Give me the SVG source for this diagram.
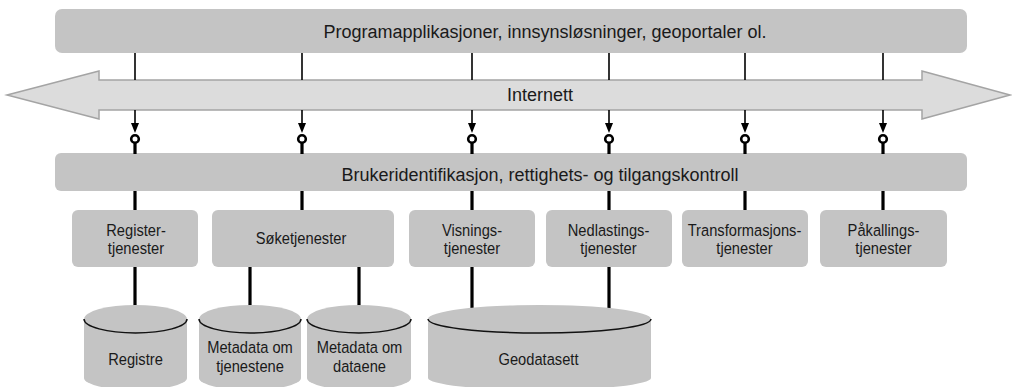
<svg xmlns="http://www.w3.org/2000/svg" width="1012" height="387" viewBox="0 0 1012 387">
<style>
.bar{fill:#c4c4c4}
.box{fill:#c4c4c4}
.cyl{fill:#c4c4c4}
.arc{fill:none;stroke:#111;stroke-width:1.5}
text{font-family:"Liberation Sans",Arial,sans-serif;font-size:16.5px;fill:#1a1a1a;text-anchor:middle}
text.big{font-size:18px}
.thin{stroke:#000;stroke-width:1.6;fill:none}
.thick{stroke:#000;stroke-width:3.2;fill:none}
.ring{fill:#fff;stroke:#000;stroke-width:2.6}
</style>
<rect width="1012" height="387" fill="#fff"/>
<g id="apps"><rect class="bar" x="55" y="9" width="912" height="44" rx="7"/><text class="big" x="545" y="37.5">Programapplikasjoner, innsynsløsninger, geoportaler ol.</text></g>
<g id="internett"><polygon points="7,95 99,71 99,80 922,80 922,71 1010,95 922,119 922,110 99,110 99,119" fill="#dcdcdc" stroke="#a4a4a4" stroke-width="1.5"/><text class="big" x="540" y="100.5">Internett</text></g>
<g id="tilgang"><rect class="bar" x="55" y="153" width="912" height="38" rx="6"/><text class="big" x="540" y="180.5">Brukeridentifikasjon, rettighets- og tilgangskontroll</text></g>
<g id="connectors">
<g id="c1"><line class="thin" x1="135" y1="53" x2="135" y2="80"/><line class="thin" x1="135" y1="110" x2="135" y2="124"/><path d="M131,123 L139,123 L135,133 Z"/><line class="thick" x1="135" y1="143" x2="135" y2="154"/><circle class="ring" cx="135" cy="139" r="3.8"/><line class="thick" x1="135" y1="191" x2="135" y2="210"/></g>
<g id="c2"><line class="thin" x1="302" y1="53" x2="302" y2="80"/><line class="thin" x1="302" y1="110" x2="302" y2="124"/><path d="M298,123 L306,123 L302,133 Z"/><line class="thick" x1="302" y1="143" x2="302" y2="154"/><circle class="ring" cx="302" cy="139" r="3.8"/><line class="thick" x1="302" y1="191" x2="302" y2="210"/></g>
<g id="c3"><line class="thin" x1="472" y1="53" x2="472" y2="80"/><line class="thin" x1="472" y1="110" x2="472" y2="124"/><path d="M468,123 L476,123 L472,133 Z"/><line class="thick" x1="472" y1="143" x2="472" y2="154"/><circle class="ring" cx="472" cy="139" r="3.8"/><line class="thick" x1="472" y1="191" x2="472" y2="210"/></g>
<g id="c4"><line class="thin" x1="609" y1="53" x2="609" y2="80"/><line class="thin" x1="609" y1="110" x2="609" y2="124"/><path d="M605,123 L613,123 L609,133 Z"/><line class="thick" x1="609" y1="143" x2="609" y2="154"/><circle class="ring" cx="609" cy="139" r="3.8"/><line class="thick" x1="609" y1="191" x2="609" y2="210"/></g>
<g id="c5"><line class="thin" x1="745" y1="53" x2="745" y2="80"/><line class="thin" x1="745" y1="110" x2="745" y2="124"/><path d="M741,123 L749,123 L745,133 Z"/><line class="thick" x1="745" y1="143" x2="745" y2="154"/><circle class="ring" cx="745" cy="139" r="3.8"/><line class="thick" x1="745" y1="191" x2="745" y2="210"/></g>
<g id="c6"><line class="thin" x1="883" y1="53" x2="883" y2="80"/><line class="thin" x1="883" y1="110" x2="883" y2="124"/><path d="M879,123 L887,123 L883,133 Z"/><line class="thick" x1="883" y1="143" x2="883" y2="154"/><circle class="ring" cx="883" cy="139" r="3.8"/><line class="thick" x1="883" y1="191" x2="883" y2="210"/></g>
<line class="thick" x1="135" y1="267" x2="135" y2="319"/>
<line class="thick" x1="250" y1="267" x2="250" y2="319"/>
<line class="thick" x1="359" y1="267" x2="359" y2="319"/>
<line class="thick" x1="472" y1="267" x2="472" y2="319"/>
<line class="thick" x1="609" y1="267" x2="609" y2="319"/>
</g>
<g id="registertjenester"><rect class="box" x="72" y="210" width="126" height="57" rx="6"/><text transform="translate(136,236) scale(0.89,1)">Register-</text><text transform="translate(136,254) scale(0.89,1)">tjenester</text></g>
<g id="soketjenester"><rect class="box" x="212" y="210" width="182" height="57" rx="6"/><text transform="translate(301,243.5) scale(0.89,1)">Søketjenester</text></g>
<g id="visningstjenester"><rect class="box" x="409" y="210" width="126" height="57" rx="6"/><text transform="translate(472,236) scale(0.89,1)">Visnings-</text><text transform="translate(472,254) scale(0.89,1)">tjenester</text></g>
<g id="nedlastingstjenester"><rect class="box" x="546" y="210" width="126" height="57" rx="6"/><text transform="translate(608.5,236) scale(0.89,1)">Nedlastings-</text><text transform="translate(608.5,254) scale(0.89,1)">tjenester</text></g>
<g id="transformasjonstjenester"><rect class="box" x="682" y="210" width="126" height="57" rx="6"/><text transform="translate(744.5,236) scale(0.89,1)">Transformasjons-</text><text transform="translate(744.5,254) scale(0.89,1)">tjenester</text></g>
<g id="pakallingstjenester"><rect class="box" x="820" y="210" width="127" height="57" rx="6"/><text transform="translate(883.5,236) scale(0.89,1)">Påkallings-</text><text transform="translate(883.5,254) scale(0.89,1)">tjenester</text></g>
<g id="registre"><path class="cyl" d="M84,319 A51.5,14 0 0 1 187,319 L187,378 A51.5,12 0 0 1 84,378 Z"/><path class="arc" d="M84,319 A51.5,14 0 0 0 187,319"/><text transform="translate(135.5,364.5) scale(0.89,1)">Registre</text></g>
<g id="metadata-tjenester"><path class="cyl" d="M199,319 A51,14 0 0 1 301,319 L301,378 A51,12 0 0 1 199,378 Z"/><path class="arc" d="M199,319 A51,14 0 0 0 301,319"/><text transform="translate(250,353) scale(0.89,1)">Metadata om</text><text transform="translate(250,371.5) scale(0.89,1)">tjenestene</text></g>
<g id="metadata-dataene"><path class="cyl" d="M307,319 A52,14 0 0 1 411,319 L411,378 A52,12 0 0 1 307,378 Z"/><path class="arc" d="M307,319 A52,14 0 0 0 411,319"/><text transform="translate(359.5,353) scale(0.89,1)">Metadata om</text><text transform="translate(359.5,371.5) scale(0.89,1)">dataene</text></g>
<g id="geodatasett"><path class="cyl" d="M428,319 A111.5,14 0 0 1 651,319 L651,378 A111.5,12 0 0 1 428,378 Z"/><path class="arc" d="M428,319 A111.5,14 0 0 0 651,319"/><text transform="translate(538.5,364.5) scale(0.89,1)">Geodatasett</text></g>
</svg>
